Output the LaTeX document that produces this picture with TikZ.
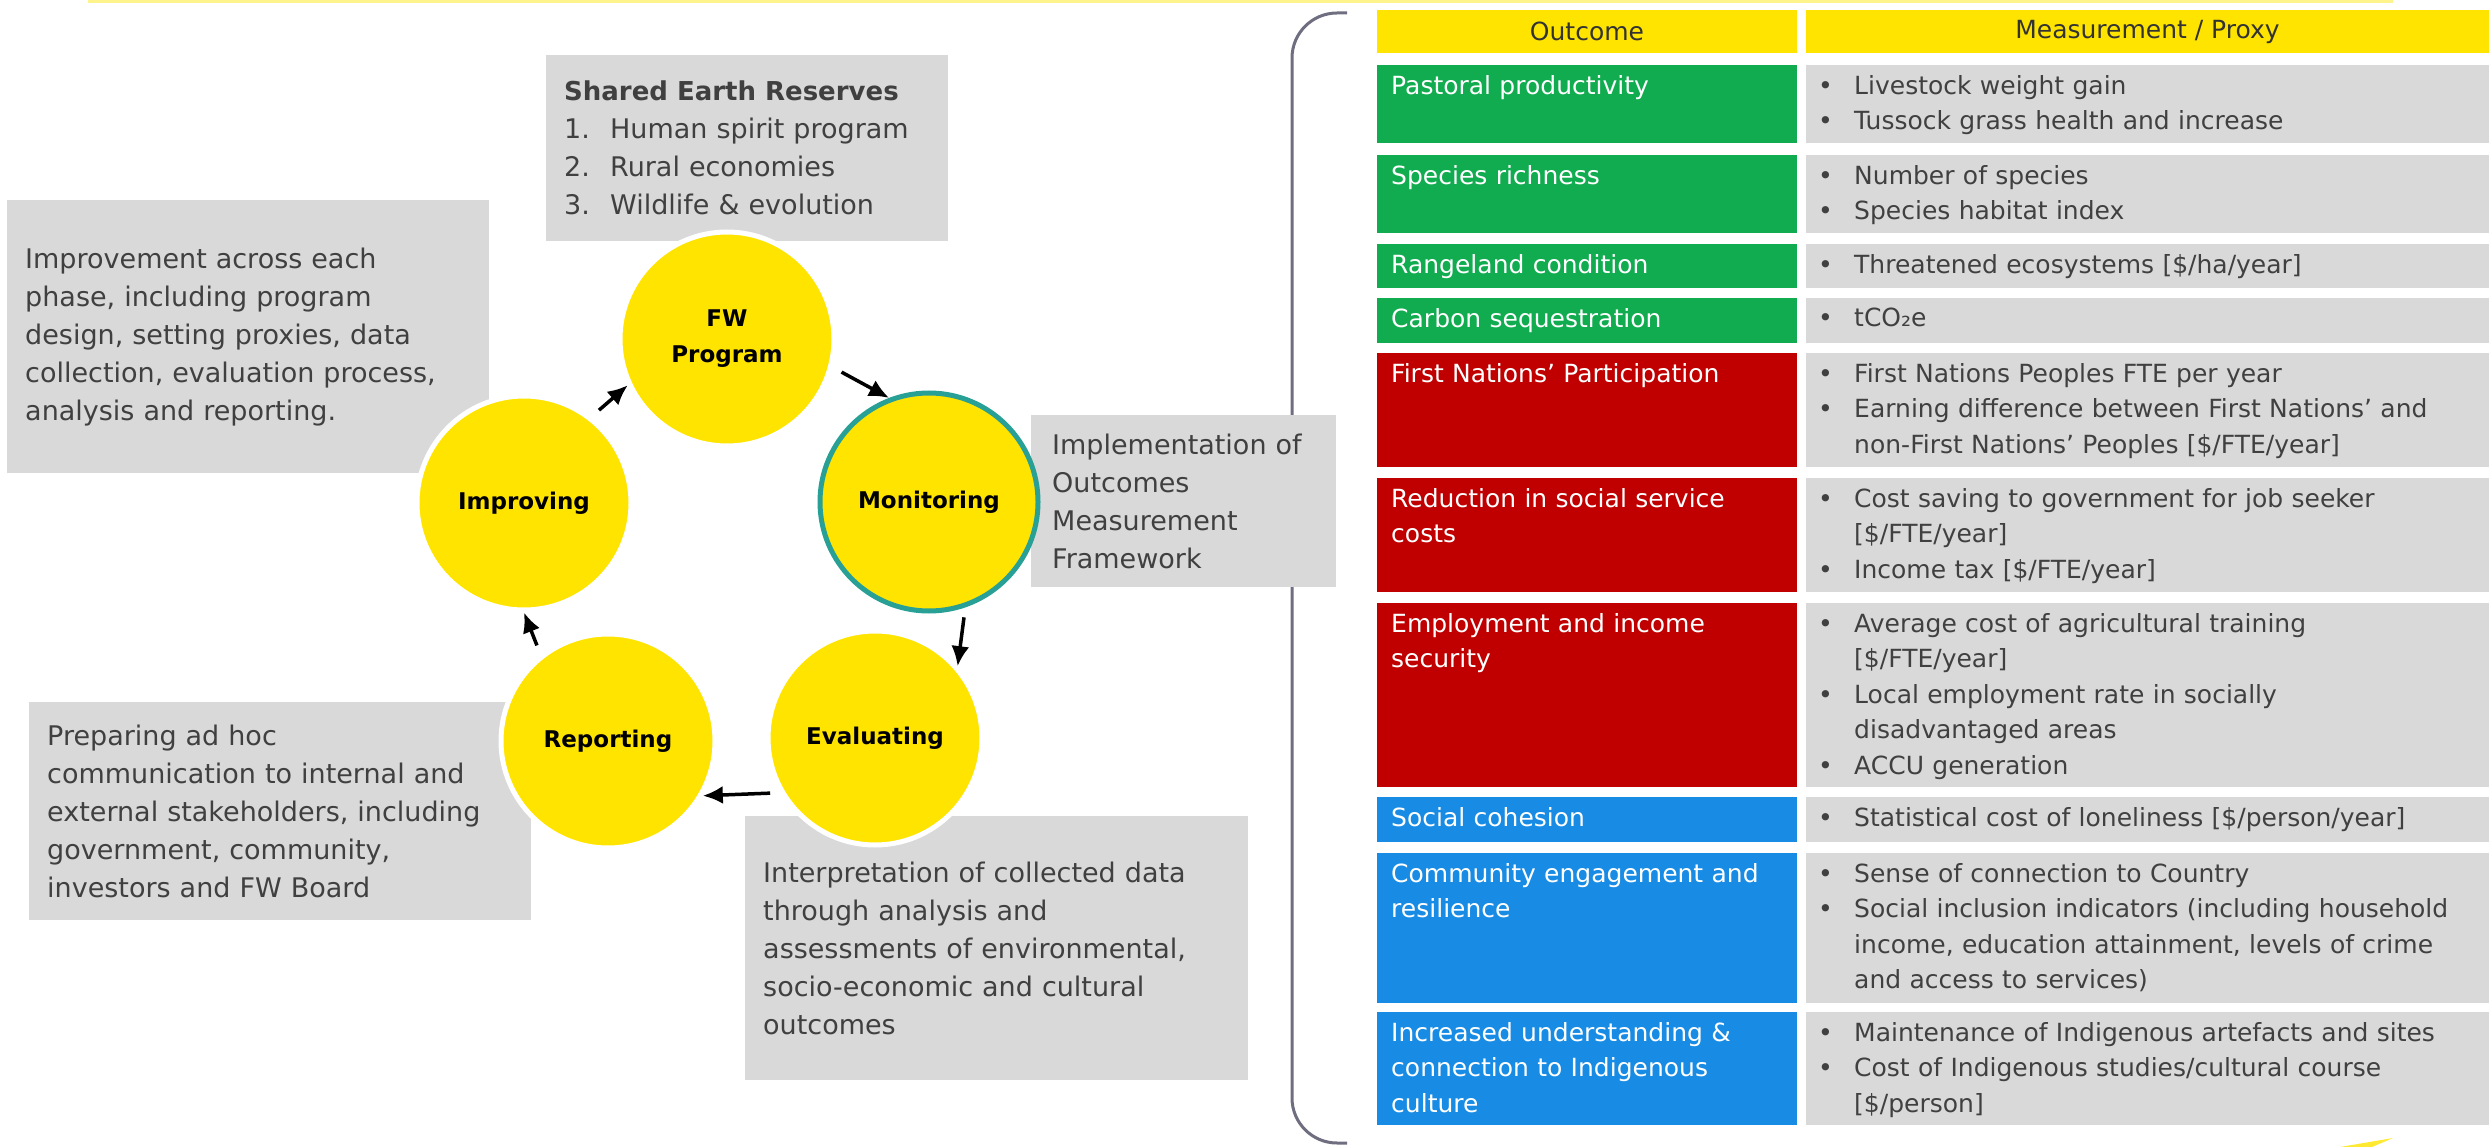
\documentclass[tikz,border=0pt]{standalone}
\usepackage{fontspec}
\setmainfont{DejaVu Sans}
\usetikzlibrary{arrows.meta}

\definecolor{eyyellow}{RGB}{255,228,0}
\definecolor{boxgray}{RGB}{217,217,217}
\definecolor{boxtext}{RGB}{64,64,64}
\definecolor{outgreen}{RGB}{18,172,80}
\definecolor{outred}{RGB}{192,0,0}
\definecolor{outblue}{RGB}{24,140,229}
\definecolor{ringteal}{RGB}{40,160,150}
\definecolor{bracketgray}{RGB}{110,110,128}

\newcommand{\pitem}{\makebox[36pt][l]{\textbullet}}
\newcommand{\pcont}{\hspace*{36pt}}

\begin{document}
\begin{tikzpicture}[x=1pt, y=-1pt,
	phase/.style={circle, fill=eyyellow, draw=white, line width=5pt, minimum size=214pt, inner sep=0pt, align=center, font=\bfseries\fontsize{23}{36}\selectfont},
	infobox/.style={anchor=north west, fill=boxgray, text=boxtext, align=left, inner xsep=18pt, font=\fontsize{27}{38}\selectfont},
	cycarrow/.style={line width=3.5pt, -{Latex[length=20pt,width=18pt]}, shorten <=10pt},
	outtext/.style={anchor=north west, text=white, align=left, text width=392pt, inner xsep=14pt, inner ysep=10pt, font=\fontsize{25}{35.5}\selectfont},
	proxytext/.style={anchor=north west, text=boxtext, align=left, text width=660pt, inner xsep=12pt, inner ysep=10pt, font=\fontsize{25}{35.5}\selectfont},
	headtext/.style={text=black!80, font=\fontsize{25}{30}\selectfont}]

	\useasboundingbox (0,0) rectangle (2489,1147);

	% Top band and bracket
	\fill[eyyellow!45] (88,0) rectangle (2393,3);
	\draw[bracketgray, line width=3pt, rounded corners=45pt] (1347,13) -- (1292,13) -- (1292,1143) -- (1347,1143);
	\fill[eyyellow!80] (2340,1147) -- (2393,1138) -- (2372,1147) -- cycle;

	% Table header
	\fill[eyyellow] (1377,10) rectangle (1797,53);
	\fill[eyyellow] (1806,10) rectangle (2489,53);
	\node[headtext] (hout) at (1587,31.5) {Outcome};
	\node[headtext] (hproxy) at (2147.5,31.5) {Measurement / Proxy};

	% Outcome cells
	\fill[outgreen] (1377,65) rectangle (1797,143);
	\fill[outgreen] (1377,155) rectangle (1797,233);
	\fill[outgreen] (1377,244) rectangle (1797,288);
	\fill[outgreen] (1377,298) rectangle (1797,343);
	\fill[outred] (1377,353) rectangle (1797,467);
	\fill[outred] (1377,478) rectangle (1797,592);
	\fill[outred] (1377,603) rectangle (1797,787);
	\fill[outblue] (1377,797) rectangle (1797,842);
	\fill[outblue] (1377,853) rectangle (1797,1003);
	\fill[outblue] (1377,1012) rectangle (1797,1125);

	% Measurement cells
	\fill[boxgray] (1806,65) rectangle (2489,143);
	\fill[boxgray] (1806,155) rectangle (2489,233);
	\fill[boxgray] (1806,244) rectangle (2489,288);
	\fill[boxgray] (1806,298) rectangle (2489,343);
	\fill[boxgray] (1806,353) rectangle (2489,467);
	\fill[boxgray] (1806,478) rectangle (2489,592);
	\fill[boxgray] (1806,603) rectangle (2489,787);
	\fill[boxgray] (1806,797) rectangle (2489,842);
	\fill[boxgray] (1806,853) rectangle (2489,1003);
	\fill[boxgray] (1806,1012) rectangle (2489,1125);

	% Outcome labels
	\node[outtext] (o1) at (1377,65) {Pastoral productivity};
	\node[outtext] (o2) at (1377,155) {Species richness};
	\node[outtext] (o3) at (1377,244) {Rangeland condition};
	\node[outtext] (o4) at (1377,298) {Carbon sequestration};
	\node[outtext] (o5) at (1377,353) {First Nations' Participation};
	\node[outtext] (o6) at (1377,478) {Reduction in social service\\costs};
	\node[outtext] (o7) at (1377,603) {Employment and income\\security};
	\node[outtext] (o8) at (1377,797) {Social cohesion};
	\node[outtext] (o9) at (1377,853) {Community engagement and\\resilience};
	\node[outtext] (o10) at (1377,1012) {Increased understanding \&\\connection to Indigenous\\culture};

	% Measurement labels
	\node[proxytext] (p1) at (1806,65) {\pitem Livestock weight gain\\\pitem Tussock grass health and increase};
	\node[proxytext] (p2) at (1806,155) {\pitem Number of species\\\pitem Species habitat index};
	\node[proxytext] (p3) at (1806,244) {\pitem Threatened ecosystems [\$/ha/year]};
	\node[proxytext] (p4) at (1806,298) {\pitem tCO₂e};
	\node[proxytext] (p5) at (1806,353) {\pitem First Nations Peoples FTE per year\\\pitem Earning difference between First Nations' and\\\pcont non-First Nations' Peoples [\$/FTE/year]};
	\node[proxytext] (p6) at (1806,478) {\pitem Cost saving to government for job seeker\\\pcont [\$/FTE/year]\\\pitem Income tax [\$/FTE/year]};
	\node[proxytext] (p7) at (1806,603) {\pitem Average cost of agricultural training\\\pcont [\$/FTE/year]\\\pitem Local employment rate in socially\\\pcont disadvantaged areas\\\pitem ACCU generation};
	\node[proxytext] (p8) at (1806,797) {\pitem Statistical cost of loneliness [\$/person/year]};
	\node[proxytext] (p9) at (1806,853) {\pitem Sense of connection to Country\\\pitem Social inclusion indicators (including household\\\pcont income, education attainment, levels of crime\\\pcont and access to services)};
	\node[proxytext] (p10) at (1806,1012) {\pitem Maintenance of Indigenous artefacts and sites\\\pitem Cost of Indigenous studies/cultural course\\\pcont [\$/person]};

	% Grey notes
	\node[infobox, minimum width=402pt, minimum height=186pt, text width=366pt] (shared) at (546,55) {{\bfseries\fontsize{26}{38}\selectfont Shared Earth Reserves}\\\makebox[46pt][l]{1.}Human spirit program\\\makebox[46pt][l]{2.}Rural economies\\\makebox[46pt][l]{3.}Wildlife \& evolution};
	\node[infobox, minimum width=482pt, minimum height=273pt, text width=446pt] (improve) at (7,200) {Improvement across each\\phase, including program\\design, setting proxies, data\\collection, evaluation process,\\analysis and reporting.};
	\node[infobox, minimum width=305pt, minimum height=172pt, text width=263pt, inner xsep=21pt] (implement) at (1031,415) {Implementation of\\Outcomes\\Measurement\\Framework};
	\node[infobox, minimum width=502pt, minimum height=218pt, text width=466pt] (prepare) at (29,702) {Preparing ad hoc\\communication to internal and\\external stakeholders, including\\government, community,\\investors and FW Board};
	\node[infobox, minimum width=503pt, minimum height=264pt, text width=467pt] (interpret) at (745,816) {Interpretation of collected data\\through analysis and\\assessments of environmental,\\socio-economic and cultural\\outcomes};

	% Cycle
	\node[phase] (fw) at (727,339) {FW\\Program};
	\node[phase] (imp) at (524,503) {Improving};
	\node[phase, draw=ringteal, minimum size=218pt] (mon) at (929,502) {Monitoring};
	\node[phase] (evl) at (875,738) {Evaluating};
	\node[phase] (rep) at (608,741) {Reporting};

	% Arrows
	\draw[cycarrow] (imp.52) -- (fw.205);
	\draw[cycarrow] (fw.-15) -- (mon.111);
	\draw[cycarrow] (mon.-71) -- (evl.41);
	\draw[cycarrow] (evl.210) -- (rep.-30);
	\draw[cycarrow] (rep.128) -- (imp.-90);
\end{tikzpicture}
\end{document}
